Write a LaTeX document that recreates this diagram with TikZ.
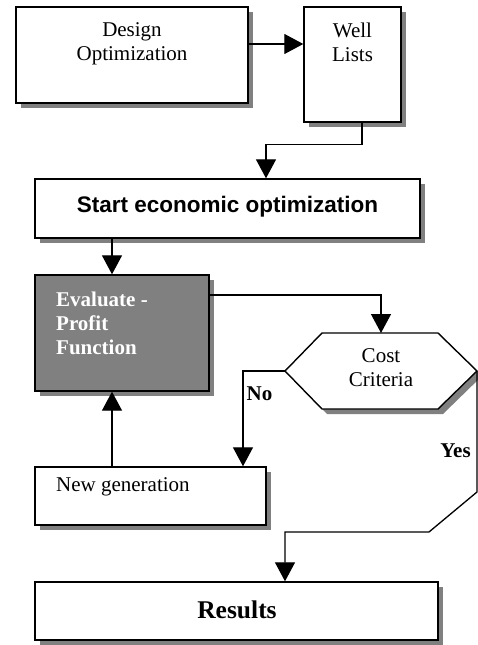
\documentclass[tikz,border=0pt]{standalone}
\usepackage{fontspec}
\setmainfont{Liberation Serif}
\newfontfamily\arialfont{Liberation Sans}
\usetikzlibrary{shadows,arrows.meta}

\tikzset{
    boxshadow/.style={drop shadow={shadow xshift=5pt, shadow yshift=-5pt, fill=black!50, opacity=1}},
    box/.style={draw, line width=1.4pt, fill=white, inner sep=0pt, boxshadow},
    link/.style={line width=1.3pt, -{Triangle[length=19pt,width=20pt]}},
    txt/.style={inner sep=0pt, font=\fontsize{21}{24}\selectfont},
    lbl/.style={inner sep=0pt, font=\fontsize{21}{24}\selectfont\bfseries},
}

\begin{document}
\begin{tikzpicture}[x=1pt, y=1pt]
    \useasboundingbox (0,0) rectangle (478,-645);

    \node[box, minimum width=232pt, minimum height=96pt] (design) at (132,-55) {};
    \node[txt, align=center] (design-t) at (132,-44) {Design\\Optimization};

    \node[box, minimum width=97pt, minimum height=115pt] (well) at (352.5,-64.5) {};
    \node[txt, align=center] (well-t) at (352.5,-42) {Well\\Lists};

    \node[box, minimum width=385pt, minimum height=59pt] (start) at (227.5,-208.5) {};
    \node[inner sep=0pt, anchor=base, font=\arialfont\fontsize{22.5}{26}\selectfont\bfseries] (start-t) at (227.5,-212.5) {Start economic optimization};

    \node[box, fill=black!50, minimum width=174pt, minimum height=116pt] (eval) at (122,-333) {};
    \node[lbl, align=left, text=white, anchor=west] (eval-t) at (56,-323) {Evaluate -\\Profit\\Function};

    \draw[line width=1.4pt, fill=white, boxshadow] (285,-371) coordinate (crit-w) -- (322,-333)
        -- (381,-333) coordinate (crit-n) -- (438,-333) -- (477,-371) coordinate (crit-e)
        -- (438,-409) -- (322,-409) -- cycle;
    \node[txt, align=center] (crit) at (381,-368) {Cost\\Criteria};

    \node[box, minimum width=231pt, minimum height=58pt] (newgen) at (150.5,-496) {};
    \node[txt, anchor=base west] (newgen-t) at (56,-491) {New generation};

    \node[box, minimum width=403pt, minimum height=58pt] (res) at (236.5,-611) {};
    \node[inner sep=0pt, anchor=base, font=\fontsize{25.5}{30}\selectfont\bfseries] (res-t) at (237,-618) {Results};

    \draw[link] ([yshift=11pt]design.east) -- ([yshift=11pt]design.east -| well.west);
    \draw[link] ([xshift=9.5pt]well.south) -- ++(0,-22) -| ([xshift=38.5pt]start.north);
    \draw[link] ([xshift=-10pt]eval.north |- start.south) -- ([xshift=-10pt]eval.north);
    \draw[link] ([yshift=38pt]eval.east) -| (crit-n);
    \draw[link] (crit-w) -| ([xshift=92.5pt]newgen.north);
    \draw[link] ([xshift=-38.5pt]newgen.north) -- ([xshift=-10pt]eval.south);
    \draw[link] (crit-e) -- ++(0,-121) -- ++(-48,-40) -| ([xshift=48.5pt]res.north);

    \node[lbl, anchor=base] (no) at (259.5,-400) {No};
    \node[lbl, anchor=base] (yes) at (455.5,-457) {Yes};
\end{tikzpicture}
\end{document}
